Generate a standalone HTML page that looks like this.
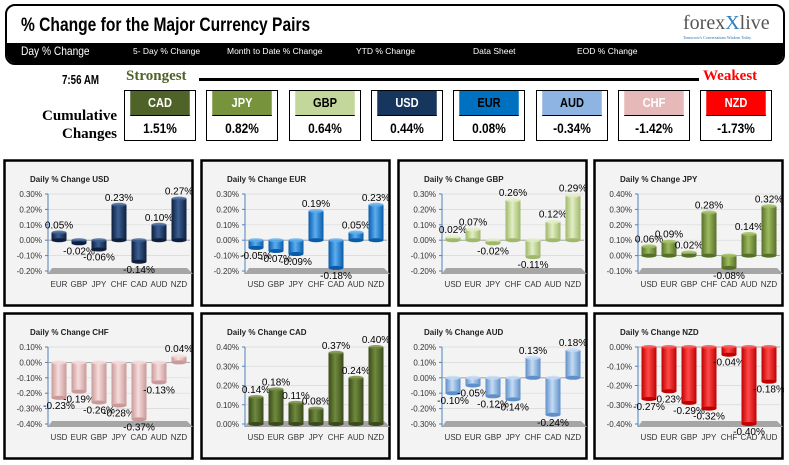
<!DOCTYPE html>
<html><head><meta charset="utf-8">
<style>
body{margin:0;width:789px;height:465px;background:#fff;position:relative;overflow:hidden;font-family:"Liberation Sans",sans-serif}
.abs{position:absolute}
.nav{position:absolute;top:46px;color:#fff;font-size:8.5px;white-space:nowrap}
.box{position:absolute;top:90px;width:70px;height:49px;border:1.5px solid #000;background:#fff}
.bh{height:24px;border-bottom:1.5px solid #000;text-align:center;font:bold 13px "Liberation Sans",sans-serif;line-height:24px;transform:scaleX(.85)}
.bv{text-align:center;font:bold 14px "Liberation Sans",sans-serif;line-height:24px;transform:scaleX(.85)}
svg{position:absolute}
</style></head><body>
<div class="abs" style="left:5px;top:4px;width:776px;height:57px;border:2px solid #000;border-radius:10px;overflow:hidden;background:#fff">
  <div class="abs" style="left:14px;top:9px;font:bold 19px 'Liberation Sans',sans-serif;transform:scaleX(.82);transform-origin:left;white-space:nowrap">% Change for the Major Currency Pairs</div>
  <div class="abs" style="left:676px;top:6px;font:20px 'Liberation Serif',serif;color:#555">forex<span style="color:#2a7fc0">X</span>live</div>
  <div class="abs" style="left:676px;top:29px;font:4px 'Liberation Serif',serif;color:#2a6fb0">Tomorrow's Conversations Wisdom Today</div>
  <div class="abs" style="left:0;top:37px;width:776px;height:20px;background:#000"></div>
</div>
<div class="nav" style="left:21px;top:44px;font-size:12px;transform:scaleX(.85);transform-origin:left">Day % Change</div>
<div class="nav" style="left:133px">5- Day % Change</div>
<div class="nav" style="left:227px">Month to Date % Change</div>
<div class="nav" style="left:356px">YTD % Change</div>
<div class="nav" style="left:473px">Data Sheet</div>
<div class="nav" style="left:577px">EOD % Change</div>

<div class="abs" style="left:62px;top:72px;font:bold 13px 'Liberation Sans',sans-serif;transform:scaleX(.75);transform-origin:left;white-space:nowrap">7:56 AM</div>
<div class="abs" style="left:126px;top:68px;font:bold 15px 'Liberation Serif',serif;color:#4f6228">Strongest</div>
<div class="abs" style="left:199px;top:78px;width:500px;height:3px;background:#000"></div>
<div class="abs" style="left:703px;top:68px;font:bold 15px 'Liberation Serif',serif;color:#f00">Weakest</div>
<div class="abs" style="left:20px;top:107px;width:97px;text-align:right;font:bold 15px/18px 'Liberation Serif',serif">Cumulative<br>Changes</div>
<div id="boxes"></div>
<div id="charts"></div>
<script>
const rankCur=["CAD","JPY","GBP","USD","EUR","AUD","CHF","NZD"];
const rankVal=["1.51%","0.82%","0.64%","0.44%","0.08%","-0.34%","-1.42%","-1.73%"];
const rankBg=["#4f6228","#77933c","#c4d79b","#17365d","#0070c0","#8db4e2","#e6b9b8","#ff0000"];
const rankFg=["#fff","#fff","#000","#fff","#000","#000","#fff","#fff"];
const bx=document.getElementById('boxes');
rankCur.forEach((c,i)=>{
  const d=document.createElement('div');d.className='box';
  
  
  d.style.left=(124+i*82.3)+'px';
  d.innerHTML='<div class="bh" style="background:'+rankBg[i]+';color:'+rankFg[i]+'">'+c+'</div><div class="bv">'+rankVal[i]+'</div>';
  bx.appendChild(d);
});

const chartBase=["USD","EUR","GBP","JPY","CHF","CAD","AUD","NZD"];
const catUSD=["EUR","GBP","JPY","CHF","CAD","AUD","NZD"];
const valUSD=[0.05,-0.02,-0.06,0.23,-0.14,0.10,0.27];
const catEUR=["USD","GBP","JPY","CHF","CAD","AUD","NZD"];
const valEUR=[-0.05,-0.07,-0.09,0.19,-0.18,0.05,0.23];
const catGBP=["USD","EUR","JPY","CHF","CAD","AUD","NZD"];
const valGBP=[0.02,0.07,-0.02,0.26,-0.11,0.12,0.29];
const catJPY=["USD","EUR","GBP","CHF","CAD","AUD","NZD"];
const valJPY=[0.06,0.09,0.02,0.28,-0.08,0.14,0.32];
const catCHF=["USD","EUR","GBP","JPY","CAD","AUD","NZD"];
const valCHF=[-0.23,-0.19,-0.26,-0.28,-0.37,-0.13,0.04];
const catCAD=["USD","EUR","GBP","JPY","CHF","AUD","NZD"];
const valCAD=[0.14,0.18,0.11,0.08,0.37,0.24,0.40];
const catAUD=["USD","EUR","GBP","JPY","CHF","CAD","NZD"];
const valAUD=[-0.10,-0.05,-0.12,-0.14,0.13,-0.24,0.18];
const catNZD=["USD","EUR","GBP","JPY","CHF","CAD","AUD"];
const valNZD=[-0.27,-0.23,-0.29,-0.32,-0.04,-0.40,-0.18];
const tickUSD=[-0.2,-0.1,0,0.1,0.2,0.3];
const tickEUR=[-0.2,-0.1,0,0.1,0.2,0.3];
const tickGBP=[-0.2,-0.1,0,0.1,0.2,0.3];
const tickJPY=[-0.1,0,0.1,0.2,0.3,0.4];
const tickCHF=[-0.4,-0.3,-0.2,-0.1,0,0.1];
const tickCAD=[0,0.1,0.2,0.3,0.4];
const tickAUD=[-0.3,-0.2,-0.1,0,0.1,0.2];
const tickNZD=[-0.4,-0.3,-0.2,-0.1,0];
const cats={USD:catUSD,EUR:catEUR,GBP:catGBP,JPY:catJPY,CHF:catCHF,CAD:catCAD,AUD:catAUD,NZD:catNZD};
const vals={USD:valUSD,EUR:valEUR,GBP:valGBP,JPY:valJPY,CHF:valCHF,CAD:valCAD,AUD:valAUD,NZD:valNZD};
const ticks={USD:tickUSD,EUR:tickEUR,GBP:tickGBP,JPY:tickJPY,CHF:tickCHF,CAD:tickCAD,AUD:tickAUD,NZD:tickNZD};
const cols={USD:["#0e1f3d","#3b5f94"],EUR:["#0a5ba8","#5aaef0"],GBP:["#9fb86a","#e2eec4"],JPY:["#56702a","#9dbb5e"],CHF:["#c99a99","#f6dcdc"],CAD:["#3a4a1c","#6f8a3c"],AUD:["#5f8fc8","#c4dbf4"],NZD:["#c00000","#ff4a4a"]};
const pos=[[3,159],[200,159],[397,159],[593,159],[3,312],[200,312],[397,312],[593,312]];
const NS="http://www.w3.org/2000/svg";
const host=document.getElementById('charts');
function el(t,a,p){const e=document.createElementNS(NS,t);for(const k in a)e.setAttribute(k,a[k]);p.appendChild(e);return e;}
chartBase.forEach((b,ci)=>{
  const W=191,H=148;
  const s=document.createElementNS(NS,'svg');
  s.setAttribute('width',W);s.setAttribute('height',H);
  s.style.left=pos[ci][0]+'px';s.style.top=pos[ci][1]+'px';
  
  
  host.appendChild(s);
  const defs=el('defs',{},s);
  const g=el('linearGradient',{id:'g'+b,x1:0,x2:1,y1:0,y2:0},defs);
  el('stop',{offset:'0','stop-color':cols[b][0]},g);
  el('stop',{offset:'0.45','stop-color':cols[b][1]},g);
  el('stop',{offset:'1','stop-color':cols[b][0]},g);
  el('rect',{x:1.5,y:1.5,width:W-3,height:H-3,fill:'#f3f3f3',stroke:'#000','stroke-width':2.5},s);
  const t=el('text',{x:27,y:23,'font-size':8,'font-weight':'bold',fill:'#222'},s);t.textContent='Daily % Change '+b;
  
  const tk=ticks[b],mn=tk[0],mx=tk[tk.length-1];
  const top=35,bot=112,L=45,R=187;
  const y=v=>bot-(v-mn)/(mx-mn)*(bot-top);
  const x=i=>L+11+i*20;
  tk.forEach(v=>{
    el('line',{x1:L,x2:R,y1:y(v),y2:y(v),stroke:'#d8d8d8','stroke-width':0.7},s);
    const tl=el('text',{x:L-6,y:y(v)+3,'font-size':8,'text-anchor':'end',fill:'#333'},s);
    tl.textContent=v.toFixed(2)+'%';
    el('line',{x1:L-3,x2:L,y1:y(v),y2:y(v),stroke:'#4f81bd','stroke-width':1},s);
  });
  el('polygon',{points:`${L},${bot+3} ${R+3},${bot+3} ${R-3},${bot-3} ${L+4},${bot-3}`,fill:'#a6a6a6'},s);
  el('line',{x1:L,x2:L,y1:top,y2:bot+3,stroke:'#4f81bd','stroke-width':1},s);
  el('line',{x1:L,x2:R,y1:y(0),y2:y(0),stroke:'#999','stroke-width':0.8},s);
  const cs=cats[b],vs=vals[b];
  cs.forEach((c,i)=>{
    const v=vs[i],cx=x(i),bw=15,y0=y(0),y1=y(v);
    const r=el('rect',{x:cx-bw/2,y:Math.min(y0,y1),width:bw,height:Math.max(1,Math.abs(y1-y0)),fill:'url(#g'+b+')'},s);
    
    el('ellipse',{cx:cx,cy:Math.min(y0,y1),rx:bw/2,ry:2,fill:cols[b][1],opacity:0.8},s);
    el('ellipse',{cx:cx,cy:Math.max(y0,y1),rx:bw/2,ry:2,fill:cols[b][0]},s);
    const lt=el('text',{x:cx,y:v>=0?y1-4:y1+11,'font-size':10,'text-anchor':'middle',fill:'#000'},s);
    lt.textContent=v.toFixed(2)+'%';
    
    const xl=el('text',{x:cx,y:128,'font-size':8,'text-anchor':'middle',fill:'#333'},s);
    xl.textContent=c;
  });
});
</script>
</body></html>
